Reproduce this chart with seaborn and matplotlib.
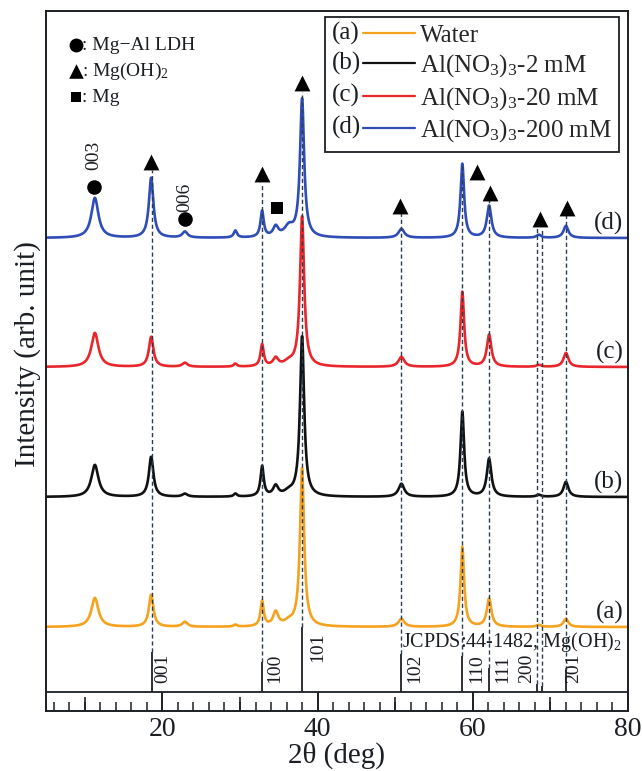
import numpy as np
import pandas as pd
import matplotlib
matplotlib.use("Agg")
import matplotlib.pyplot as plt
import seaborn as sns
from matplotlib.lines import Line2D
from matplotlib.text import Text
from matplotlib.legend_handler import HandlerBase
from matplotlib.ticker import MultipleLocator, FixedLocator

# ---------------- data ----------------
peak_pos = [11.3, 18.55, 22.9, 29.4, 32.85, 34.6, 36.3, 38.0, 50.8, 58.65, 62.1, 68.5, 72.0]
peak_hwhm = [0.55, 0.35, 0.40, 0.25, 0.25, 0.40, 0.70, 0.32, 0.45, 0.28, 0.35, 0.35, 0.38]
h_water = [29, 32, 5, 2, 25, 14, 4, 158, 8, 80, 28, 2, 8]
h_2mM = [32, 40, 3, 3, 30, 10, 4, 160, 13, 85, 38, 2, 15]
h_20mM = [34, 30, 4, 3, 22, 8, 4, 150, 10, 75, 32, 2, 14]
h_200mM = [40, 60, 6, 7, 26, 10, 10, 138, 9, 74, 32, 3, 12]

samples = ["Water", "Al(NO$_3$)$_3$-2 mM", "Al(NO$_3$)$_3$-20 mM", "Al(NO$_3$)$_3$-200 mM"]
tags = ["(a)", "(b)", "(c)", "(d)"]
colors = ["#F5A21E", "#111111", "#E8262B", "#2E4DB6"]
offsets = [84, 214, 344, 473]

# JCPDS 44-1482, Mg(OH)2 reference sticks
ref_pos = [18.6, 32.8, 38.0, 50.8, 58.6, 62.1, 68.3, 68.9, 72.0]
ref_int = [40, 30, 65, 38, 36, 24, 8, 6, 22]
guide_top = [541, 528, 619, 498, 548, 511, 483, 483, 496]
hkl_labels = ["001", "100", "101", "102", "110", "111", "200", "201"]
hkl_x = [20.0, 34.5, 40.0, 52.5, 60.5, 63.8, 66.9, 73.0]
hkl_y = [28, 28, 49, 28, 28, 28, 28, 28]

# phase markers on pattern (d)
tri_x = [18.55, 32.85, 38.05, 50.6, 60.5, 62.2, 68.6, 72.2]
tri_y = [549, 537, 628, 505, 539, 518, 492, 503]
ldh_x = [11.2, 22.9]
ldh_y = [524, 492]
ldh_lab = ["003", "006"]
ldh_lab_y = [556, 514]
mg_x = [34.8]
mg_y = [503]

ruler = 19

# ---------------- build curves ----------------
x = np.linspace(5, 80, 3001)
def profile(heights, base):
    y = np.full_like(x, float(base))
    for c, w, h in zip(peak_pos, peak_hwhm, heights):
        y += h / (1 + ((x - c) / w) ** 2)
    return y

frames = []
for s, h, off in zip(samples, [h_water, h_2mM, h_20mM, h_200mM], offsets):
    frames.append(pd.DataFrame({"two_theta": x, "I": profile(h, off), "sample": s}))
df = pd.concat(frames, ignore_index=True)

# ---------------- style ----------------
sns.set_style("white")
plt.rcParams["font.family"] = ["Liberation Serif", "DejaVu Serif"]
plt.rcParams["mathtext.fontset"] = "custom"
plt.rcParams["mathtext.rm"] = "Liberation Serif"
plt.rcParams["mathtext.it"] = "Liberation Serif:italic"
plt.rcParams["mathtext.bf"] = "Liberation Serif:bold"
ink = "#1b1f24"
dash_c = "#2b3d4d"

fig = plt.figure(figsize=(6.42, 7.71), dpi=100)
ax = fig.add_axes([46 / 642, 1 - 711 / 771, 582 / 642, 700 / 771])

sns.lineplot(data=df, x="two_theta", y="I", hue="sample", hue_order=samples,
             palette=colors, legend=False, ax=ax, lw=1.9, estimator=None, sort=False)

ax.set_xlim(5, 80)
ax.set_ylim(0, 700)

# ruler line and reference sticks
ax.axhline(ruler, color=ink, lw=1.3)
ax.vlines(ref_pos, ruler, [ruler + v for v in ref_int], color=ink, lw=1.3)
ax.vlines(ref_pos, [ruler + v for v in ref_int], guide_top, color=dash_c, lw=1.0,
          linestyles=(0, (3, 2)))
for lab, lx, ly in zip(hkl_labels, hkl_x, hkl_y):
    ax.text(lx, ly, lab, rotation=90, ha="center", va="bottom", fontsize=14, color=ink)
ax.text(50.9, 69, "JCPDS:44-1482, Mg(OH)$_2$", ha="left", va="center", fontsize=14.5, color=ink)

# markers
ax.scatter(tri_x, tri_y, marker="^", s=130, color="black", zorder=5, linewidths=0)
ax.scatter(ldh_x, ldh_y, marker="o", s=110, color="black", zorder=5, linewidths=0)
ax.scatter(mg_x, mg_y, marker="s", s=70, color="black", zorder=5, linewidths=0)
for lx, ly, lab in zip(ldh_x, ldh_lab_y, ldh_lab):
    ax.text(lx, ly, lab, rotation=90, ha="center", va="center", fontsize=14, color=ink)

# curve tags
for tag, off in zip(tags, offsets):
    ax.text(79.4, off + 15, tag, ha="right", va="center", fontsize=18, color=ink)

# phase key (top-left)
key_marks = ["o", "^", "s"]
key_sizes = [100, 110, 55]
key_txt = [": Mg\u2212Al LDH", ": Mg(OH)$_2$", ": Mg"]
for i, (m, sz, t) in enumerate(zip(key_marks, key_sizes, key_txt)):
    ax.scatter([8.9], [666 - 26 * i], marker=m, s=sz, color="black", linewidths=0)
    ax.text(9.7, 666 - 26 * i, t, ha="left", va="center", fontsize=14, color=ink)

# legend with "(a) ---- label" entries
class TagHandler(HandlerBase):
    def __init__(self, tag):
        super().__init__()
        self.tag = tag

    def create_artists(self, legend, orig_handle, xdescent, ydescent, width, height,
                       fontsize, trans):
        yc = height / 2 - ydescent
        t = Text(-xdescent, yc, self.tag, fontsize=fontsize, va="center", ha="left",
                 color=ink, transform=trans)
        ln = Line2D([-xdescent + width * 0.38, -xdescent + width], [yc, yc],
                    color=orig_handle.get_color(), lw=1.6, transform=trans)
        return [t, ln]

handles = [Line2D([], [], color=c) for c in colors]
leg = ax.legend(handles, samples, handler_map={h: TagHandler(t) for h, t in zip(handles, tags)},
                loc="upper right", bbox_to_anchor=((619 - 46) / 582, (711 - 17) / 700),
                borderaxespad=0, fontsize=18, handlelength=3.3, handletextpad=0.2,
                labelspacing=0.22, borderpad=0.3, fancybox=False, framealpha=1)
leg.get_frame().set_edgecolor(ink)
leg.get_frame().set_linewidth(1.3)

# axes, ticks
for sp in ax.spines.values():
    sp.set_color(ink)
    sp.set_linewidth(1.4)
ax.set_yticks([])
ax.xaxis.set_major_locator(FixedLocator([20, 40, 60, 80]))
ax.xaxis.set_minor_locator(MultipleLocator(2))
ax.tick_params(axis="x", which="both", bottom=True, top=False)
ax.tick_params(axis="x", which="major", direction="in", length=13.7, width=1.2,
               colors=ink, labelsize=20, pad=4)
ax.tick_params(axis="x", which="minor", direction="in", length=6.5, width=1.1, colors=ink)
ax.vlines([10, 30, 50, 70], 0, 14, color=ink, lw=1.2)
ax.vlines([20, 40, 60], 0, ruler, color=ink, lw=1.2)
ax.set_xlabel("2\u03b8 (deg)", fontsize=21, labelpad=0, color=ink)
ax.set_ylabel("Intensity (arb. unit)", fontsize=21, color=ink)
ax.yaxis.set_label_coords(-0.008, 0.51)

fig.savefig("out.png", dpi=100)
